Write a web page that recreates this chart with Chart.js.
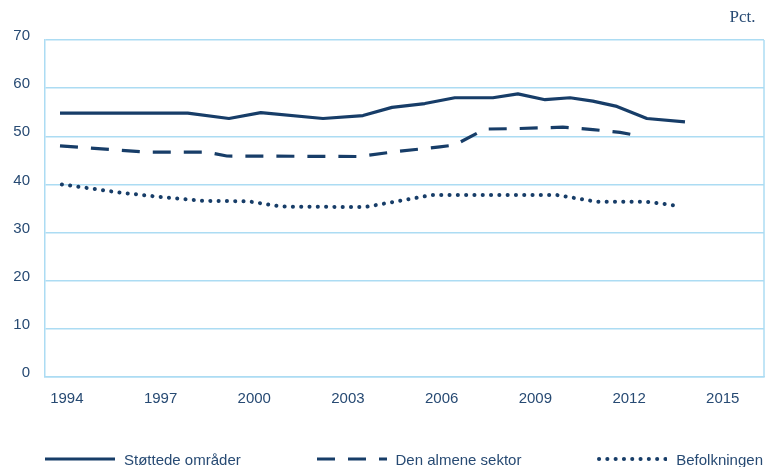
<!DOCTYPE html>
<html>
<head>
<meta charset="utf-8">
<script src="https://cdn.jsdelivr.net/npm/chart.js@4/dist/chart.umd.min.js"></script>
<style>
  html, body { margin: 0; background: #fff; }
  #wrap { position: relative; width: 766px; height: 467px; }
  #legenda {
    position: absolute; left: 45px; top: 449px; width: 718px; height: 20px;
    display: flex; justify-content: space-between; align-items: center;
    font: 15px "Liberation Sans", Arial, sans-serif; color: #274a73;
  }
  #legenda div { display: flex; align-items: center; }
  #legenda svg { margin-right: 9px; }
</style>
</head>
<body>
<div id="wrap">
  <canvas id="grafico"></canvas>
  <div id="legenda"></div>
</div>
<script>
const aksjeAar = [1994, 1997, 2000, 2003, 2006, 2009, 2012, 2015];

// Støttede områder
const stottedeAar = [1993.78, 1997.87, 1999.19, 2000.21, 2002.2, 2003.48, 2004.41, 2005.46, 2006.42, 2007.64, 2008.44, 2009.31, 2010.11, 2010.84, 2011.61, 2012.57, 2013.79];
const stottedeVerdi = [54.8, 54.8, 53.7, 54.9, 53.7, 54.3, 56.0, 56.8, 58.0, 58.0, 58.8, 57.6, 58.0, 57.3, 56.2, 53.7, 53.0];

// Den almene sektor
const almeneAar = [1993.78, 1996.6, 1998.51, 1999.12, 2003.38, 2004.5, 2005.94, 2006.42, 2007.38, 2008.44, 2009.88, 2010.84, 2011.71, 2012.22];
const almeneVerdi = [48.0, 46.7, 46.7, 45.9, 45.8, 46.8, 47.8, 48.2, 51.5, 51.6, 51.9, 51.4, 50.8, 50.2];

// Befolkningen
const befAar = [1993.84, 1994.83, 1995.7, 1996.98, 1998.32, 1999.8, 2000.88, 2003.54, 2004.66, 2005.69, 2009.69, 2010.97, 2012.57, 2013.63];
const befVerdi = [40.0, 39.1, 38.3, 37.4, 36.6, 36.5, 35.4, 35.3, 36.6, 37.8, 37.8, 36.4, 36.4, 35.5];

const linjeFarge = '#173d68';
const tekstFarge = '#274a73';
const gridFarge = '#acdcf3';

const punkter = (xs, ys) => xs.map((x, i) => ({ x: x, y: ys[i] }));

// høyre ramme
const ramme = {
  id: 'ramme',
  afterDraw(chart) {
    const { ctx, chartArea } = chart;
    ctx.save();
    ctx.strokeStyle = gridFarge;
    ctx.lineWidth = 1.5;
    ctx.beginPath();
    ctx.moveTo(chartArea.right, chartArea.top);
    ctx.lineTo(chartArea.right, chartArea.bottom);
    ctx.stroke();
    ctx.restore();
  }
};

const ctx = document.getElementById('grafico');

const chart = new Chart(ctx, {
  type: 'line',
  data: {
    datasets: [{
      label: 'Støttede områder',
      data: punkter(stottedeAar, stottedeVerdi),
      borderColor: linjeFarge,
      borderWidth: 3.2,
      borderJoinStyle: 'round'
    }, {
      label: 'Den almene sektor',
      data: punkter(almeneAar, almeneVerdi),
      borderColor: linjeFarge,
      borderWidth: 3.2,
      borderDash: [18, 13]
    }, {
      label: 'Befolkningen',
      data: punkter(befAar, befVerdi),
      borderColor: linjeFarge,
      borderWidth: 4,
      borderDash: [0.1, 8.2],
      borderCapStyle: 'round'
    }]
  },
  options: {
    responsive: true,
    maintainAspectRatio: false,
    animation: false,
    elements: { point: { radius: 0 }, line: { tension: 0 } },
    layout: { padding: { left: 0, right: 2, top: 0, bottom: 59 } },
    scales: {
      x: {
        type: 'linear',
        min: 1993.3,
        max: 2016.32,
        afterBuildTicks: (axis) => { axis.ticks = aksjeAar.map(v => ({ value: v })); },
        afterFit: (axis) => { axis.height = 31; },
        ticks: {
          padding: 5,
          color: tekstFarge,
          font: { family: 'Liberation Sans', size: 15 },
          callback: (v) => String(v)
        },
        grid: { display: false },
        border: { color: gridFarge, width: 1.5 }
      },
      y: {
        min: 0,
        max: 70,
        afterFit: (axis) => { axis.width = 45; },
        ticks: {
          stepSize: 10,
          padding: 15,
          labelOffset: -4,
          color: tekstFarge,
          font: { family: 'Liberation Sans', size: 15 }
        },
        grid: { color: gridFarge, lineWidth: 1.5, drawTicks: false },
        border: { color: gridFarge, width: 1.5 }
      }
    },
    plugins: {
      legend: { display: false },
      tooltip: { enabled: false },
      title: {
        display: true,
        text: 'Pct.  ',
        align: 'end',
        color: tekstFarge,
        font: { family: 'Liberation Serif', size: 17, weight: 'normal' },
        padding: { top: 7, bottom: 12.6 }
      }
    }
  },
  plugins: [ramme]
});

// HTML-legende bygget fra datasettene
const legenda = document.getElementById('legenda');
chart.data.datasets.forEach(ds => {
  const item = document.createElement('div');
  const dash = ds.borderDash ? ds.borderDash.join(' ') : 'none';
  const cap = ds.borderCapStyle || 'butt';
  item.innerHTML =
    '<svg width="70" height="10"><line x1="' + (cap === 'round' ? 2 : 0) + '" y1="5" x2="70" y2="5" stroke="' + ds.borderColor +
    '" stroke-width="' + ds.borderWidth + '" stroke-dasharray="' + dash + '" stroke-linecap="' + cap + '"/></svg>' +
    '<span>' + ds.label + '</span>';
  legenda.appendChild(item);
});
</script>
</body>
</html>
